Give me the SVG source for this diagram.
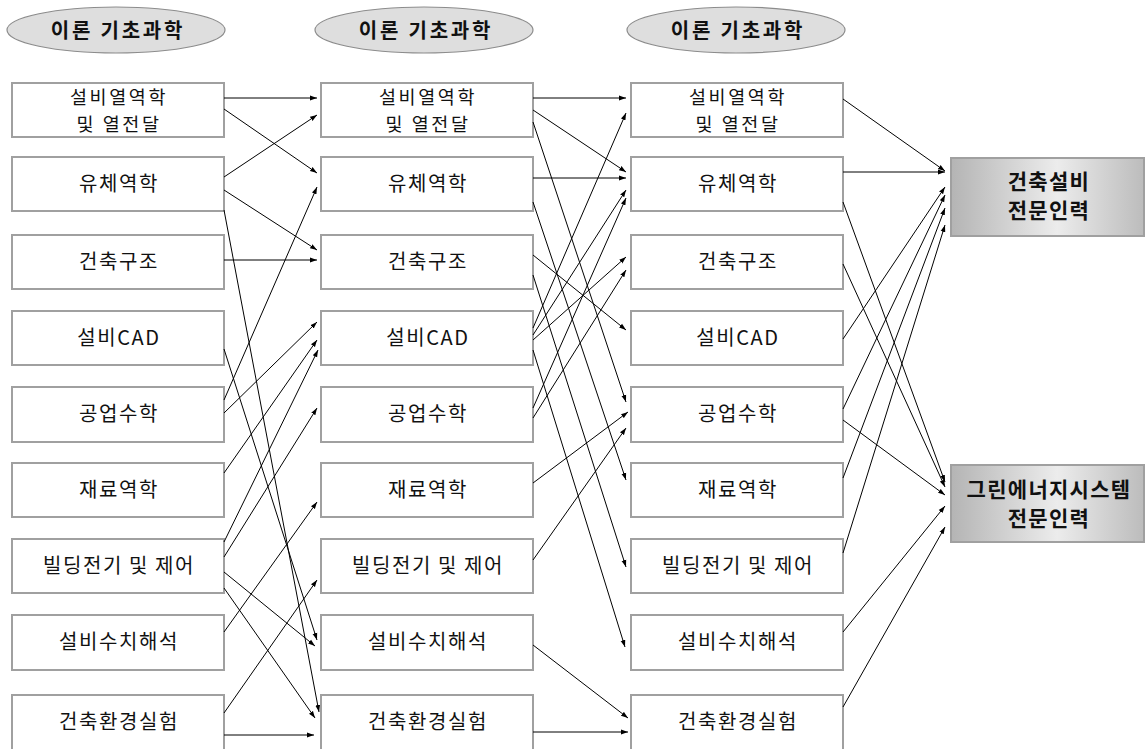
<svg xmlns="http://www.w3.org/2000/svg" width="1145" height="749" viewBox="0 0 1145 749">
<style>
.box{fill:#fff;stroke:#a0a0a0;stroke-width:2}
.ell{fill:#dedede;stroke:#8c8c8c;stroke-width:1.2}
.gbox{fill:url(#gg);stroke:#a0a0a0;stroke-width:2}
.t{font-family:"Noto Sans CJK KR","Noto Sans",sans-serif;font-size:20px;fill:#111;text-anchor:middle;letter-spacing:1.6px}
.t2{font-family:"Noto Sans CJK KR","Noto Sans",sans-serif;font-size:18.5px;fill:#111;text-anchor:middle;letter-spacing:2.6px}
.h{font-family:"Noto Sans CJK KR","Noto Sans",sans-serif;font-size:20px;font-weight:bold;fill:#111;text-anchor:middle;letter-spacing:2.8px}
.b{font-family:"Noto Sans CJK KR","Noto Sans",sans-serif;font-size:21px;font-weight:bold;fill:#111;text-anchor:middle;letter-spacing:1.3px}
#edges line{stroke:#000;stroke-width:1;marker-end:url(#ah)}
</style>
<defs>
<linearGradient id="gg" x1="0" y1="0" x2="1" y2="0">
<stop offset="0" stop-color="#b4b4b4"/>
<stop offset="0.55" stop-color="#ececec"/>
<stop offset="1" stop-color="#bcbcbc"/>
</linearGradient>
<marker id="ah" markerWidth="8" markerHeight="6" refX="7" refY="3" orient="auto" markerUnits="userSpaceOnUse">
<path d="M0,0.6 L7,3 L0,5.4 z" fill="#000"/>
</marker>
</defs>

<g id="h1"><ellipse class="ell" cx="116" cy="30" rx="109" ry="23"/><text class="h" x="118" y="38">이론 기초과학</text></g>
<g id="h2"><ellipse class="ell" cx="424" cy="30" rx="109" ry="23"/><text class="h" x="426" y="38">이론 기초과학</text></g>
<g id="h3"><ellipse class="ell" cx="736" cy="30" rx="109" ry="23"/><text class="h" x="738" y="38">이론 기초과학</text></g>

<g id="c1r1"><rect class="box" x="12" y="83" width="212" height="54"/><text class="t2" x="119" y="104">설비열역학</text><text class="t2" x="119" y="131">및 열전달</text></g>
<g id="c1r2"><rect class="box" x="12" y="157" width="212" height="54"/><text class="t" x="119" y="191">유체역학</text></g>
<g id="c1r3"><rect class="box" x="12" y="235" width="212" height="54"/><text class="t" x="119" y="269">건축구조</text></g>
<g id="c1r4"><rect class="box" x="12" y="311" width="212" height="54"/><text class="t" x="119" y="345">설비CAD</text></g>
<g id="c1r5"><rect class="box" x="12" y="387" width="212" height="55"/><text class="t" x="119" y="421">공업수학</text></g>
<g id="c1r6"><rect class="box" x="12" y="463" width="212" height="54"/><text class="t" x="119" y="497">재료역학</text></g>
<g id="c1r7"><rect class="box" x="12" y="539" width="212" height="54"/><text class="t" x="119" y="573">빌딩전기 및 제어</text></g>
<g id="c1r8"><rect class="box" x="12" y="615" width="212" height="55"/><text class="t" x="119" y="649">설비수치해석</text></g>
<g id="c1r9"><rect class="box" x="12" y="695" width="212" height="56"/><text class="t" x="119" y="729">건축환경실험</text></g>

<g id="c2r1"><rect class="box" x="321" y="83" width="212" height="54"/><text class="t2" x="428" y="104">설비열역학</text><text class="t2" x="428" y="131">및 열전달</text></g>
<g id="c2r2"><rect class="box" x="321" y="157" width="212" height="54"/><text class="t" x="428" y="191">유체역학</text></g>
<g id="c2r3"><rect class="box" x="321" y="235" width="212" height="54"/><text class="t" x="428" y="269">건축구조</text></g>
<g id="c2r4"><rect class="box" x="321" y="311" width="212" height="54"/><text class="t" x="428" y="345">설비CAD</text></g>
<g id="c2r5"><rect class="box" x="321" y="387" width="212" height="55"/><text class="t" x="428" y="421">공업수학</text></g>
<g id="c2r6"><rect class="box" x="321" y="463" width="212" height="54"/><text class="t" x="428" y="497">재료역학</text></g>
<g id="c2r7"><rect class="box" x="321" y="539" width="212" height="54"/><text class="t" x="428" y="573">빌딩전기 및 제어</text></g>
<g id="c2r8"><rect class="box" x="321" y="615" width="212" height="55"/><text class="t" x="428" y="649">설비수치해석</text></g>
<g id="c2r9"><rect class="box" x="321" y="695" width="212" height="56"/><text class="t" x="428" y="729">건축환경실험</text></g>

<g id="c3r1"><rect class="box" x="631" y="83" width="212" height="54"/><text class="t2" x="738" y="104">설비열역학</text><text class="t2" x="738" y="131">및 열전달</text></g>
<g id="c3r2"><rect class="box" x="631" y="157" width="212" height="54"/><text class="t" x="738" y="191">유체역학</text></g>
<g id="c3r3"><rect class="box" x="631" y="235" width="212" height="54"/><text class="t" x="738" y="269">건축구조</text></g>
<g id="c3r4"><rect class="box" x="631" y="311" width="212" height="54"/><text class="t" x="738" y="345">설비CAD</text></g>
<g id="c3r5"><rect class="box" x="631" y="387" width="212" height="55"/><text class="t" x="738" y="421">공업수학</text></g>
<g id="c3r6"><rect class="box" x="631" y="463" width="212" height="54"/><text class="t" x="738" y="497">재료역학</text></g>
<g id="c3r7"><rect class="box" x="631" y="539" width="212" height="54"/><text class="t" x="738" y="573">빌딩전기 및 제어</text></g>
<g id="c3r8"><rect class="box" x="631" y="615" width="212" height="55"/><text class="t" x="738" y="649">설비수치해석</text></g>
<g id="c3r9"><rect class="box" x="631" y="695" width="212" height="56"/><text class="t" x="738" y="729">건축환경실험</text></g>

<g id="out1"><rect class="gbox" x="951" y="158" width="193" height="78"/><text class="b" x="1049" y="189">건축설비</text><text class="b" x="1049" y="218">전문인력</text></g>
<g id="out2"><rect class="gbox" x="951" y="465" width="193" height="77"/><text class="b" x="1049" y="497">그린에너지시스템</text><text class="b" x="1049" y="526">전문인력</text></g>

<g id="edges">
<line x1="224" y1="98" x2="317" y2="98"/>
<line x1="224" y1="109" x2="317" y2="173"/>
<line x1="224" y1="177" x2="317" y2="115"/>
<line x1="224" y1="190" x2="317" y2="250"/>
<line x1="224" y1="210" x2="319" y2="712"/>
<line x1="224" y1="260" x2="317" y2="260"/>
<line x1="224" y1="349" x2="317" y2="640"/>
<line x1="224" y1="400" x2="317" y2="187"/>
<line x1="224" y1="413" x2="317" y2="322"/>
<line x1="224" y1="473" x2="317" y2="340"/>
<line x1="224" y1="542" x2="318" y2="350"/>
<line x1="224" y1="557" x2="317" y2="408"/>
<line x1="224" y1="572" x2="315" y2="646"/>
<line x1="224" y1="588" x2="315" y2="718"/>
<line x1="224" y1="632" x2="317" y2="502"/>
<line x1="224" y1="713" x2="317" y2="580"/>
<line x1="224" y1="735" x2="314" y2="735"/>

<line x1="533" y1="98" x2="626" y2="98"/>
<line x1="533" y1="110" x2="626" y2="172"/>
<line x1="533" y1="122" x2="626" y2="402"/>
<line x1="533" y1="178" x2="626" y2="178"/>
<line x1="533" y1="202" x2="626" y2="480"/>
<line x1="533" y1="255" x2="626" y2="330"/>
<line x1="533" y1="275" x2="626" y2="567"/>
<line x1="533" y1="328" x2="626" y2="113"/>
<line x1="533" y1="335" x2="626" y2="190"/>
<line x1="533" y1="340" x2="626" y2="257"/>
<line x1="533" y1="350" x2="625" y2="647"/>
<line x1="533" y1="408" x2="626" y2="198"/>
<line x1="533" y1="418" x2="626" y2="270"/>
<line x1="533" y1="483" x2="628" y2="412"/>
<line x1="533" y1="560" x2="626" y2="428"/>
<line x1="533" y1="645" x2="628" y2="718"/>
<line x1="533" y1="732" x2="628" y2="732"/>

<line x1="843" y1="99" x2="945" y2="171"/>
<line x1="843" y1="172" x2="945" y2="172"/>
<line x1="843" y1="202" x2="945" y2="482"/>
<line x1="843" y1="264" x2="945" y2="487"/>
<line x1="843" y1="339" x2="945" y2="187"/>
<line x1="843" y1="409" x2="945" y2="195"/>
<line x1="843" y1="420" x2="945" y2="495"/>
<line x1="843" y1="478" x2="945" y2="208"/>
<line x1="843" y1="553" x2="945" y2="225"/>
<line x1="843" y1="632" x2="945" y2="506"/>
<line x1="843" y1="707" x2="945" y2="527"/>
</g>
</svg>
